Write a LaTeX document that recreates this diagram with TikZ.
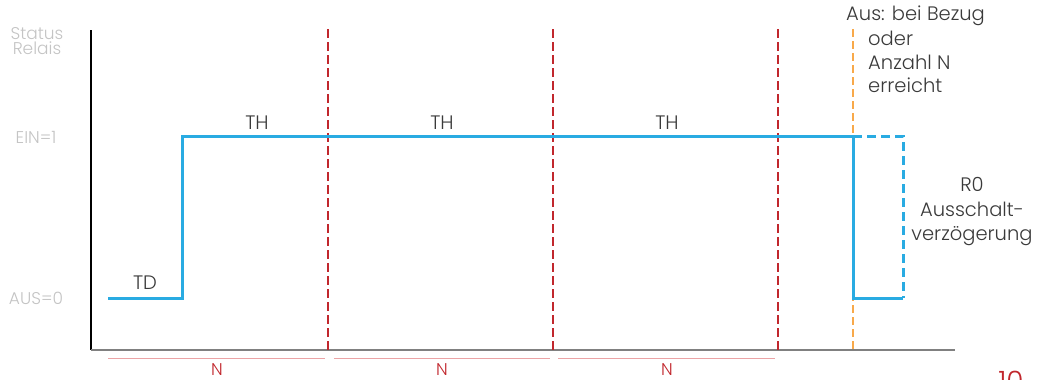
\documentclass[tikz,border=0pt]{standalone}
\usepackage{fontspec}
\IfFontExistsTF{Poppins Light}{\setmainfont{Poppins Light}}{\setmainfont{Poppins}}
\definecolor{blueL}{HTML}{29ABE2}
\definecolor{redL}{HTML}{C1272D}
\definecolor{orangeL}{HTML}{F8A94A}
\definecolor{pinkL}{HTML}{EBA3A5}
\definecolor{txt}{HTML}{3A3A3A}
\definecolor{faint}{HTML}{C4C4C4}
\begin{document}
\begin{tikzpicture}[x=1pt,y=-1pt,
  sig/.style={draw=blueL,line width=3pt,line join=miter},
  sigdash/.style={draw=blueL,line width=3pt,dash pattern=on 9pt off 5pt},
  sep/.style={draw=redL,line width=1.8pt,dash pattern=on 9pt off 4pt},
  trig/.style={draw=orangeL,line width=1.5pt,dash pattern=on 8pt off 4pt},
  span/.style={draw=pinkL,line width=1pt},
  lbl/.style={font=\fontsize{19.5}{23.5}\selectfont,text=txt,inner sep=0pt},
  ylbl/.style={font=\fontsize{17}{15.5}\selectfont,text=faint,inner sep=0pt,align=center},
  nlbl/.style={font=\fontsize{17}{18}\selectfont,text=redL,inner sep=0pt}]
\useasboundingbox (0,0) rectangle (1042,380);
% axes
\coordinate (o) at (91,350);
\coordinate (ytop) at (91,30);
\coordinate (xend) at (955,350);
\draw[black,line width=2.2pt] (ytop) -- (o);
\draw[gray,line width=2.4pt] (o) -- (xend);
% separators
\foreach \x/\n in {328/s1,553/s2,778/s3}{
  \coordinate (\n t) at (\x,29);
  \coordinate (\n b) at (\x,350);
  \draw[sep] (\n t) -- (\n b);
}
\coordinate (ot) at (853,29);
\coordinate (ob) at (853,350);
\draw[trig] (ot) -- (ob);
% signal
\coordinate (p0) at (108,298);
\coordinate (p1) at (182,298);
\coordinate (p2) at (182,136);
\coordinate (p3) at (853,136);
\coordinate (p4) at (853,298);
\coordinate (p5) at (903,298);
\coordinate (p6) at (903,136);
\draw[sig] (p0) -- (p1) -- (p2) -- (p3) -- (p4) -- (p5);
\draw[sigdash] (p3) -- (p6) -- (p5);
% spans
\foreach \a/\b/\c in {108/325/217,334/550/442,558/775/667}{
  \coordinate (sa\c) at (\a,358);
  \coordinate (sb\c) at (\b,358);
  \draw[span] (sa\c) -- (sb\c);
  \node[nlbl] (n\c) at (\c,370) {N};
}
% labels
\node[lbl] (td) at (145,283) {TD};
\node[lbl] (th1) at (257,123) {TH};
\node[lbl] (th2) at (442,123) {TH};
\node[lbl] (th3) at (667,123) {TH};
\node[ylbl] (st) at (37,41) {Status\\Relais};
\node[ylbl] (ein) at (36,137) {EIN=1};
\node[ylbl] (aus) at (36,298) {AUS=0};
\node[lbl,anchor=west] (a1) at (846,16) {Aus: bei Bezug};
\node[lbl,anchor=west,align=left] (a2) at (868,62) {oder\\Anzahl N\\erreicht};
\node[lbl,align=center,font=\fontsize{19.5}{24.5}\selectfont] (r0) at (972,212) {R0\\Ausschalt-\\verzögerung};
\node[font=\fontsize{28}{30}\selectfont,text=redL,inner sep=0pt,anchor=north] (pg) at (1011,371) {10};
\end{tikzpicture}
\end{document}
